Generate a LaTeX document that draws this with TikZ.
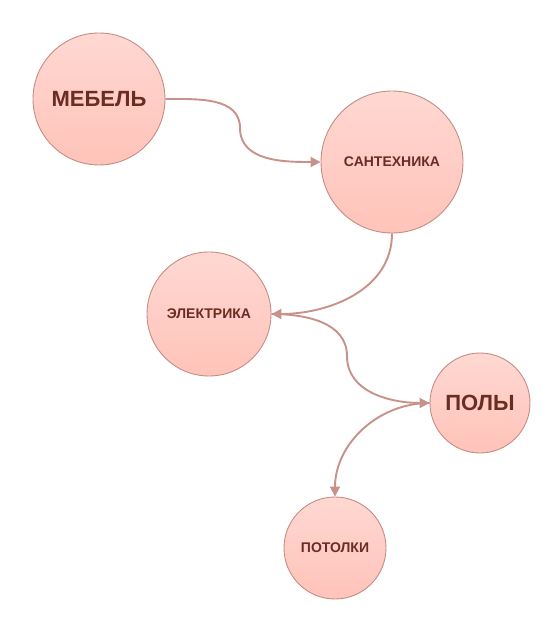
\documentclass[tikz,border=0pt]{standalone}
\usepackage{fontspec}
\setmainfont{Liberation Sans}
\usetikzlibrary{arrows.meta}
\definecolor{bubtop}{HTML}{FFD8D2}
\definecolor{bubbot}{HTML}{FFC3B9}
\definecolor{bubline}{HTML}{C48C84}
\definecolor{bubtext}{HTML}{6B2C22}
\definecolor{linkcol}{HTML}{C8918A}

\begin{document}
\begin{tikzpicture}[x=1pt,y=-1pt,
  bubble/.style={circle,draw=bubline,line width=0.9pt,top color=bubtop,bottom color=bubbot,
    text=bubtext,inner sep=0pt,minimum size=#1},
  big/.style={font=\fontsize{22}{24}\selectfont\bfseries},
  small/.style={font=\fontsize{14}{16}\selectfont\bfseries},
  link/.style={draw=linkcol,line width=1.9pt,-{Triangle[length=10pt,width=10pt]}}]
\useasboundingbox (0,0) rectangle (558,628);

\node[bubble=132pt,big] (mebel) at (99,99) {МЕБЕЛЬ};
\node[bubble=142pt,small] (santeh) at (392,162) {САНТЕХНИКА};
\node[bubble=124pt,small] (elektr) at (209,314) {ЭЛЕКТРИКА};
\node[bubble=100pt,big] (poly) at (480,403) {ПОЛЫ};
\node[bubble=102pt,small] (potolki) at (335,548) {ПОТОЛКИ};

\coordinate (m1) at (240,128);
\coordinate (m2) at (347,356);

\draw[link] (mebel.east) to[out=0,in=90] (m1) to[out=-90,in=180] (santeh.west);
\draw[link] (santeh.south) to[out=-90,in=0] (elektr.east);
\draw[link] (elektr.east) to[out=0,in=90] (m2) to[out=-90,in=180] (poly.west);
\draw[link] (poly.west) to[out=180,in=90] (potolki.north);
\end{tikzpicture}
\end{document}
